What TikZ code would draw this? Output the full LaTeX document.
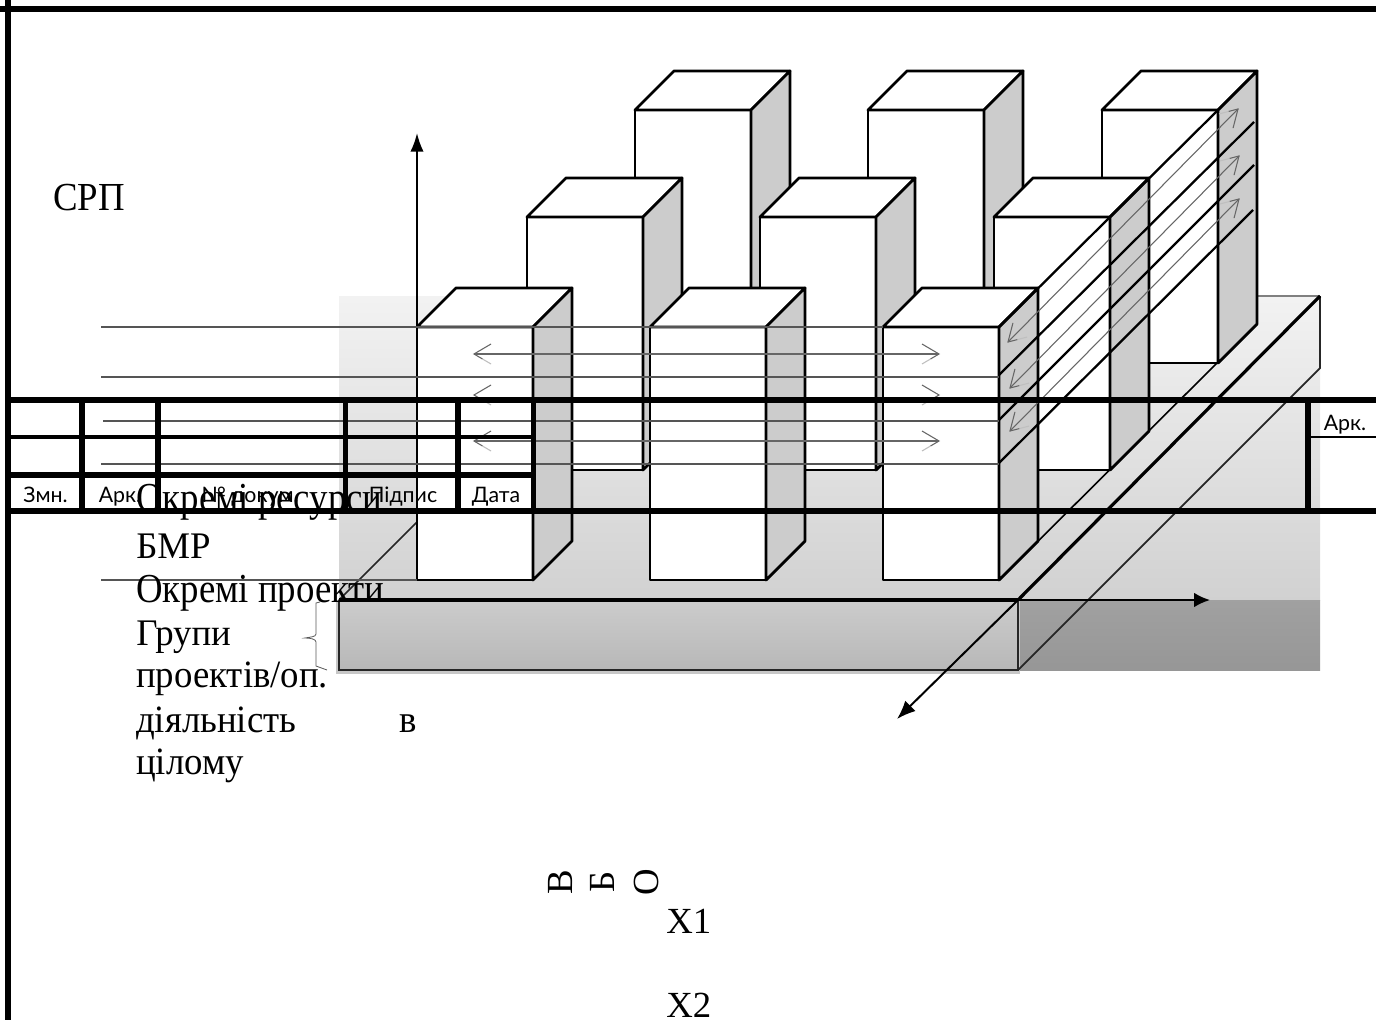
\documentclass[tikz,border=0pt]{standalone}
\usepackage{fontspec}
\usepackage{graphicx}
\usetikzlibrary{arrows.meta}
\setmainfont{Liberation Serif}
\newfontfamily\cellfont{Lato}
\definecolor{sidegray}{HTML}{CCCCCC}
\definecolor{shaftgray}{HTML}{666666}
\definecolor{hlinegray}{HTML}{555555}
\newcommand{\tall}[2]{\scalebox{1}[#1]{#2}}
\newcommand{\cuboid}[2]{%
  \begin{scope}[shift={(#1,#2)}]
    \draw[cubeline,fill=white] (0,0) rectangle (116,253);
    \draw[cubeline,fill=white] (0,0)--(39,-39)--(155,-39)--(116,0)--cycle;
    \draw[cubeline,fill=sidegray] (116,0)--(155,-39)--(155,214)--(116,253)--cycle;
  \end{scope}}
% tip x, tip y, angle, side of the fading barb
\newcommand{\vhead}[4]{%
  \begin{scope}[shift={(#1,#2)},rotate=#3]
    \draw[barbline,draw=shaftgray] (-17,{-(#4)*10})--(0,0)--(-8.5,{(#4)*5});
    \draw[barbline,draw=black!25] (-8.5,{(#4)*5})--(-17,{(#4)*10});
  \end{scope}}
\tikzset{
  cubeline/.style={draw=black,line width=2.1pt,line join=round},
  barbline/.style={line width=0.8pt},
  shaft/.style={draw=shaftgray,line width=0.8pt},
  hline/.style={draw=hlinegray,line width=1.2pt},
  planeline/.style={draw=black,line width=1.7pt},
  slabline/.style={draw=black!85,line width=1.3pt},
  axisline/.style={draw=black,line width=1.5pt},
  rule/.style={draw=black,line width=3.9pt},
  thinrule/.style={draw=black,line width=2.3pt},
  heavyrule/.style={draw=black,line width=4.5pt},
  bigtext/.style={anchor=base west,inner sep=0pt,font=\fontsize{27.6}{30}\selectfont},
  celltext/.style={anchor=base,inner sep=0pt,font=\cellfont\fontsize{16}{18}\selectfont},
}
\begin{document}
\begin{tikzpicture}[x=0.75pt,y=-0.75pt]
\useasboundingbox (0,0) rectangle (1376,1020);
% ground shading
\shade[top color=black!5,bottom color=black!18] (339,296) rectangle (1320,600);
\shade[top color=black!37,bottom color=black!41] (1018,600) rectangle (1320,670);
\fill[black!22] (336,600) rectangle (1020,674);
\shade[top color=black!20,bottom color=black!28] (339,600) rectangle (1018,670);
% slab outline
\draw[draw=black!50,line width=1pt] (1148,296)--(1320,296);
\draw[slabline] (1320,296)--(1320,368)--(1018,670);
\draw[slabline] (339,600)--(339,670)--(1018,670)--(1018,600);
\draw[slabline] (417,522)--(339,600);
\draw[planeline,line width=1.2pt] (999,580)--(1218,362)--(1257,323);
% vertical axis
\draw[axisline,-{Latex[length=14pt,width=10pt]}] (417,580)--(417,133);
% cuboids
\cuboid{635}{110}\cuboid{868}{110}\cuboid{1102}{110}
\cuboid{527}{217}\cuboid{760}{217}\cuboid{994}{217}
\cuboid{417}{327}\cuboid{650}{327}\cuboid{883}{327}
% plane lines over the cuboids
\draw[hline] (101,327)--(883,327);
\draw[hline] (101,377)--(999,377);
\draw[hline] (103,421)--(999,421);
\draw[hline] (101,464)--(999,464);
\draw[hline] (101,580)--(417,580);
\draw[planeline] (999,327)--(1218,110);
\draw[planeline] (999,375)--(1254,122);
\draw[planeline] (999,420)--(1254,165);
\draw[planeline] (999,463)--(1253,210);
% axes and slab top
\draw[draw=black,line width=2.3pt] (339,600)--(1018,600);
\draw[draw=black,line width=2.4pt] (1320,296)--(1018,600);
\draw[axisline,-{Latex[length=12pt,width=11pt]}] (1018,600)--(1210,600);
\draw[axisline,-{Latex[length=14pt,width=11pt]}] (1018,600)--(897,719);
% two-way arrows
\draw[shaft] (474,354)--(939,354);
\draw[shaft] (474,399)--(939,399);
\draw[shaft] (474,441)--(939,441);
\vhead{474}{354}{180}{-1}\vhead{939}{354}{0}{1}
\vhead{474}{395}{180}{-1}\vhead{939}{395}{0}{1}
\vhead{474}{441}{180}{-1}\vhead{939}{441}{0}{1}
\draw[shaft] (1008,342)--(1238,109);
\draw[shaft] (1010,388)--(1239,156);
\draw[shaft] (1010,431)--(1239,199);
\vhead{1008}{342}{225}{-1}\vhead{1238}{109}{45}{-1}
\vhead{1010}{388}{225}{-1}\vhead{1239}{156}{45}{-1}
\vhead{1010}{431}{225}{-1}\vhead{1239}{199}{45}{-1}
% brace
\draw[draw=black!65,line width=0.6pt] (320,602)--(316,603)--(316,634) .. controls (316,637) and (310,637) .. (305,638) .. controls (310,638) and (316,639) .. (316,642)--(316,666)--(327,670);
% frame and title block
\draw[draw=black,line width=4.5pt] (0,9.5)--(1376,9.5);
\draw[rule] (8,0)--(8,1020);
\draw[rule] (8,400)--(1376,400);
\draw[rule] (8,511)--(1376,511);
\draw[thinrule] (8,437)--(533,437);
\draw[heavyrule] (8,475)--(533,475);
\foreach \vx in {82,158,345.5,458,533.5,1308}{\draw[rule] (\vx,400)--(\vx,511);}
\draw[draw=black,line width=1.2pt] (1308,437)--(1376,437);
% title block labels
\node[celltext] (cellA) at (45.5,502) {Змн.};
\node[celltext] (cellB) at (120,502) {Арк.};
\node[celltext] (cellC) at (250,502) {№ докум.};
\node[celltext] (cellD) at (403,502) {Підпис};
\node[celltext] (cellE) at (496,502) {Дата};
\node[celltext] (cellF) at (1345,430) {Арк.};
% main labels
\node[bigtext] (srp) at (53,210.5) {\tall{1.08}{СРП}};
\node[bigtext] (t1) at (136,511) {\tall{1.12}{Окремі ресурси}};
\node[bigtext] (t2) at (136,558) {\tall{1.02}{БМР}};
\node[bigtext] (t3) at (136,602) {\tall{1.12}{Окремі проекти}};
\node[bigtext] (t4) at (136,645) {\tall{1.02}{Групи}};
\node[bigtext] (t5) at (136,687) {\tall{1.05}{проектів/оп.}};
\node[bigtext] (t6) at (136,732) {\tall{1.05}{діяльність}};
\node[bigtext] (t7) at (399,732) {\tall{1.05}{в}};
\node[bigtext] (t8) at (136,774) {\tall{1.05}{цілому}};
\node[bigtext,rotate=90] (v) at (572,883) {\makebox[0pt][c]{В}};
\node[bigtext,rotate=90] (b) at (614,883) {\makebox[0pt][c]{Б}};
\node[bigtext,rotate=90] (o) at (658,883) {\makebox[0pt][c]{О}};
\node[bigtext] (x1) at (666,933) {X1};
\node[bigtext] (x2) at (666,1017) {X2};
\end{tikzpicture}
\end{document}
